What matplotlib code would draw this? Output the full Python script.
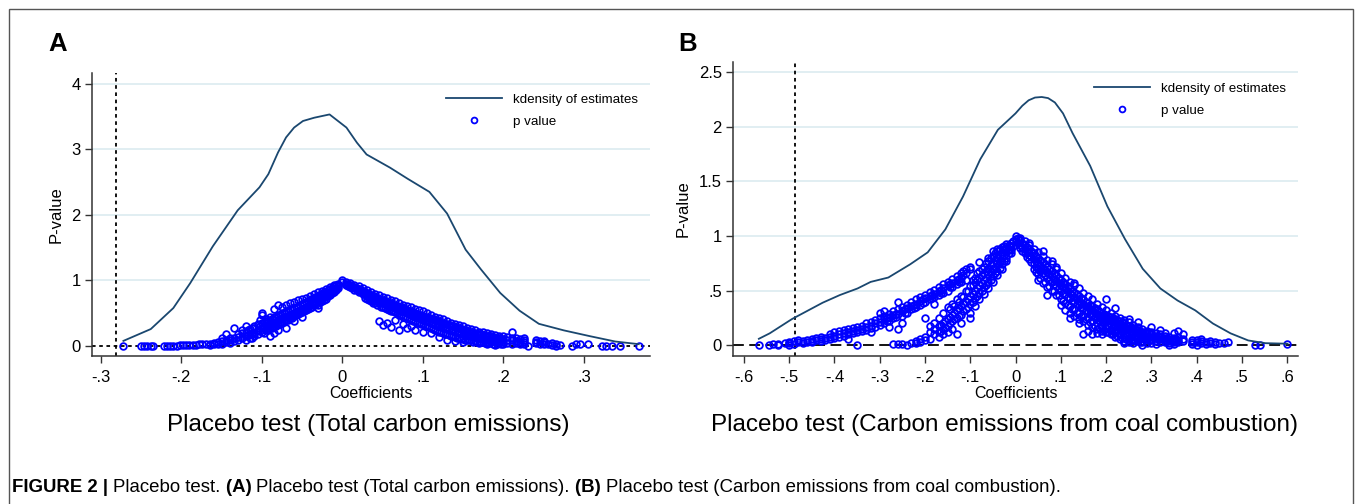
import matplotlib
matplotlib.use("Agg")
import matplotlib.pyplot as plt
from matplotlib.patches import Rectangle
from matplotlib.lines import Line2D

plt.rcParams['font.family'] = ['Liberation Sans', 'DejaVu Sans']

# kdensity curves
a_kx = [-0.272, -0.238, -0.210, -0.189, -0.161, -0.130, -0.103, -0.092, -0.080, -0.070,
        -0.060, -0.049, -0.035, -0.016, 0.005, 0.018, 0.030, 0.059, 0.081, 0.108,
        0.130, 0.153, 0.172, 0.196, 0.220, 0.244, 0.275, 0.308, 0.339, 0.368]
a_ky = [0.08, 0.26, 0.58, 0.96, 1.52, 2.07, 2.42, 2.62, 2.95, 3.18,
        3.33, 3.43, 3.48, 3.53, 3.33, 3.10, 2.92, 2.72, 2.55, 2.35,
        2.02, 1.47, 1.17, 0.81, 0.54, 0.34, 0.24, 0.15, 0.07, 0.03]

b_kx = [-0.567, -0.543, -0.494, -0.426, -0.388, -0.349, -0.320, -0.281, -0.233, -0.194,
        -0.155, -0.116, -0.078, -0.039, 0.000, 0.015, 0.029, 0.043, 0.058, 0.072,
        0.087, 0.105, 0.126, 0.165, 0.203, 0.242, 0.281, 0.320, 0.358, 0.397,
        0.436, 0.475, 0.514, 0.552, 0.601]
b_ky = [0.06, 0.11, 0.24, 0.39, 0.46, 0.52, 0.58, 0.62, 0.74, 0.85,
        1.06, 1.36, 1.70, 1.97, 2.12, 2.19, 2.24, 2.265, 2.27, 2.26,
        2.22, 2.12, 1.94, 1.64, 1.27, 0.97, 0.70, 0.52, 0.41, 0.32,
        0.20, 0.11, 0.045, 0.02, 0.015]

# p values: one coefficient, the p values seen at it
a_x = [-0.272, -0.25, -0.247, -0.243, -0.238, -0.235, -0.222, -0.218, -0.214, -0.21,
       -0.206, -0.202, -0.198, -0.194, -0.19, -0.186, -0.182, -0.178, -0.174, -0.17,
       -0.165, -0.16, -0.155, -0.15, -0.145, -0.14, -0.135, -0.13, -0.125, -0.12,
       -0.115, -0.11, -0.105, -0.1, -0.095, -0.09, -0.085, -0.08, -0.075, -0.07,
       -0.065, -0.06, -0.055, -0.05, -0.045, -0.04, -0.035, -0.03, -0.025, -0.02,
       -0.015, -0.01, -0.005, 0.0,
       0.005, 0.01, 0.015, 0.02, 0.025, 0.03, 0.035, 0.04, 0.045, 0.05,
       0.055, 0.06, 0.065, 0.07, 0.075, 0.08, 0.085, 0.09, 0.095, 0.1,
       0.105, 0.11, 0.115, 0.12, 0.125, 0.13, 0.135, 0.14, 0.145, 0.15,
       0.155, 0.16, 0.165, 0.17, 0.175, 0.18, 0.185, 0.19, 0.195, 0.2,
       0.205, 0.21, 0.215, 0.22, 0.225, 0.23, 0.24, 0.245, 0.25, 0.255,
       0.26, 0.265, 0.27, 0.285, 0.29, 0.295, 0.305, 0.322, 0.327, 0.335,
       0.345, 0.368]
a_p = [[0.0], [0.0], [0.0], [0.0], [0.0], [0.0], [0.0], [0.0], [0.0], [0.005],
       [0.005], [0.01], [0.01], [0.01], [0.015], [0.02], [0.02], [0.025], [0.03], [0.03],
       [0.04, 0.02], [0.05, 0.03], [0.06, 0.04], [0.08, 0.04, 0.12], [0.07, 0.10, 0.19],
       [0.09, 0.13, 0.05], [0.12, 0.28, 0.08], [0.14, 0.10, 0.18], [0.13, 0.20, 0.24],
       [0.15, 0.22, 0.1, 0.3],
       [0.18, 0.26, 0.12], [0.2, 0.28, 0.31, 0.15], [0.25, 0.33, 0.19],
       [0.27, 0.36, 0.47, 0.5, 0.22], [0.3, 0.38, 0.25, 0.42], [0.33, 0.4, 0.28, 0.15, 0.45],
       [0.35, 0.44, 0.57, 0.3, 0.2], [0.4, 0.47, 0.62, 0.34, 0.25], [0.42, 0.5, 0.37, 0.6],
       [0.45, 0.53, 0.4, 0.62, 0.28],
       [0.48, 0.56, 0.43, 0.66], [0.5, 0.58, 0.46, 0.67, 0.38], [0.53, 0.6, 0.49, 0.7],
       [0.56, 0.64, 0.52, 0.72, 0.45], [0.6, 0.67, 0.55, 0.74], [0.63, 0.7, 0.58, 0.77],
       [0.66, 0.73, 0.62, 0.8], [0.7, 0.76, 0.63, 0.82, 0.58], [0.73, 0.8, 0.68, 0.84],
       [0.77, 0.83, 0.72, 0.87],
       [0.82, 0.87, 0.78, 0.9], [0.86, 0.91, 0.83, 0.93], [0.92, 0.95, 0.89], [1.0, 0.98],
       [0.97, 0.95, 0.93], [0.93, 0.96, 0.9], [0.9, 0.93, 0.86], [0.87, 0.91, 0.83],
       [0.84, 0.88, 0.8], [0.81, 0.86, 0.77, 0.72], [0.78, 0.83, 0.74, 0.68],
       [0.75, 0.8, 0.71, 0.65], [0.72, 0.78, 0.68, 0.38], [0.7, 0.75, 0.65, 0.6, 0.32],
       [0.67, 0.73, 0.62, 0.56, 0.36], [0.65, 0.7, 0.6, 0.54, 0.29], [0.62, 0.68, 0.58, 0.52, 0.4],
       [0.6, 0.66, 0.55, 0.48, 0.25], [0.58, 0.63, 0.53, 0.45, 0.33], [0.55, 0.61, 0.5, 0.43, 0.27],
       [0.53, 0.59, 0.48, 0.4, 0.3], [0.5, 0.57, 0.45, 0.38, 0.24], [0.48, 0.55, 0.43, 0.35],
       [0.46, 0.53, 0.4, 0.33, 0.22],
       [0.44, 0.5, 0.38, 0.3], [0.42, 0.48, 0.36, 0.28, 0.2], [0.4, 0.45, 0.34, 0.25],
       [0.38, 0.43, 0.32, 0.22, 0.14], [0.35, 0.41, 0.29, 0.2], [0.33, 0.38, 0.27, 0.18, 0.1],
       [0.31, 0.36, 0.25, 0.16], [0.29, 0.34, 0.23, 0.14, 0.08], [0.27, 0.32, 0.21, 0.13],
       [0.25, 0.3, 0.19, 0.12, 0.06],
       [0.23, 0.28, 0.17, 0.1], [0.21, 0.26, 0.15, 0.09], [0.2, 0.24, 0.14, 0.08],
       [0.19, 0.22, 0.12, 0.05], [0.17, 0.21, 0.11, 0.06], [0.16, 0.2, 0.1, 0.04],
       [0.15, 0.19, 0.09, 0.06], [0.13, 0.17, 0.08, 0.02], [0.12, 0.16, 0.07],
       [0.11, 0.15, 0.06, 0.03],
       [0.1, 0.14, 0.05], [0.09, 0.13, 0.22, 0.04], [0.08, 0.12, 0.05], [0.07, 0.11, 0.03],
       [0.06, 0.12, 0.1, 0.03], [0.0], [0.1, 0.05, 0.07], [0.08, 0.04], [0.06, 0.03, 0.08],
       [0.03],
       [0.05, 0.02], [0.0, 0.04], [0.02], [0.0], [0.03], [0.04], [0.04], [0.0], [0.0], [0.0],
       [0.0], [0.0]]

# extra points of the dense bands, between the columns above
a_x_mid = [-0.1175, -0.1125, -0.1025, -0.0975, -0.0925, -0.0875, -0.0825, -0.0775,
           -0.0725, -0.0675, -0.0625, -0.0575, -0.0525, -0.0475, -0.0425, -0.0375,
           -0.0325, -0.0275, -0.0225, -0.0175, -0.0125, -0.0075,
           0.0075, 0.0125, 0.0175, 0.0225, 0.0275, 0.0325, 0.0375, 0.0425, 0.0475,
           0.0525, 0.0575, 0.0625, 0.0675, 0.0725, 0.0775, 0.0825, 0.0875, 0.0925,
           0.0975, 0.1025, 0.1075, 0.1125, 0.1175, 0.1225, 0.1275, 0.1325, 0.1375,
           0.1425, 0.1475, 0.1525, 0.1575, 0.1625, 0.1675, 0.1725, 0.1775, 0.1825,
           0.1875, 0.1925, 0.1975]
a_p_mid = [[0.17, 0.24], [0.19, 0.27, 0.13], [0.23, 0.31, 0.4], [0.28, 0.35, 0.2],
           [0.31, 0.39, 0.24], [0.34, 0.42, 0.27], [0.37, 0.45, 0.3], [0.41, 0.48, 0.33],
           [0.44, 0.51, 0.37], [0.46, 0.54, 0.4], [0.49, 0.57, 0.43], [0.52, 0.59, 0.47],
           [0.55, 0.62, 0.5], [0.58, 0.65, 0.53], [0.61, 0.69, 0.57], [0.65, 0.72, 0.6],
           [0.68, 0.75, 0.64], [0.72, 0.78, 0.67], [0.75, 0.82, 0.71], [0.8, 0.85, 0.76],
           [0.84, 0.89, 0.81], [0.89, 0.93, 0.86],
           [0.95, 0.92], [0.92, 0.88], [0.89, 0.85], [0.86, 0.82], [0.83, 0.79, 0.74],
           [0.8, 0.75, 0.7], [0.77, 0.72, 0.66], [0.74, 0.69, 0.63], [0.71, 0.66, 0.6],
           [0.69, 0.64, 0.58], [0.66, 0.61, 0.55], [0.63, 0.59, 0.53], [0.61, 0.57, 0.5],
           [0.59, 0.54, 0.47], [0.56, 0.52, 0.44], [0.54, 0.49, 0.41], [0.52, 0.47, 0.39],
           [0.49, 0.44, 0.36], [0.47, 0.42, 0.34], [0.45, 0.39, 0.31], [0.43, 0.37, 0.29],
           [0.41, 0.35, 0.26], [0.39, 0.33, 0.23], [0.36, 0.3, 0.21], [0.34, 0.28, 0.19],
           [0.32, 0.26, 0.17], [0.3, 0.24, 0.15], [0.28, 0.22, 0.13], [0.26, 0.2, 0.11],
           [0.24, 0.18, 0.1], [0.22, 0.16, 0.09], [0.2, 0.14, 0.07], [0.19, 0.13, 0.07],
           [0.18, 0.12, 0.06], [0.16, 0.1, 0.05], [0.15, 0.09, 0.05], [0.14, 0.08, 0.04],
           [0.12, 0.07, 0.03], [0.11, 0.06, 0.03]]

b_x = [-0.567, -0.545, -0.535, -0.525, -0.51, -0.5, -0.49, -0.48, -0.47, -0.46,
       -0.45, -0.44, -0.43, -0.42, -0.41, -0.4, -0.39, -0.38, -0.37, -0.36,
       -0.35, -0.34, -0.33, -0.32, -0.31, -0.3, -0.29, -0.28, -0.27, -0.26,
       -0.25, -0.24, -0.23, -0.22, -0.21, -0.2, -0.19, -0.18, -0.17, -0.16,
       -0.15, -0.14, -0.13, -0.12, -0.11, -0.1, -0.09, -0.08, -0.07, -0.06,
       -0.05, -0.04, -0.03, -0.02, -0.01, 0.0,
       0.01, 0.02, 0.03, 0.04, 0.05, 0.06, 0.07, 0.08, 0.09, 0.1,
       0.11, 0.12, 0.13, 0.14, 0.15, 0.16, 0.17, 0.18, 0.19, 0.2,
       0.21, 0.22, 0.23, 0.24, 0.25, 0.26, 0.27, 0.28, 0.29, 0.3,
       0.31, 0.32, 0.33, 0.34, 0.35, 0.36, 0.37, 0.39, 0.4, 0.41,
       0.42, 0.43, 0.44, 0.45, 0.46, 0.47, 0.53, 0.54, 0.6]
b_p = [[0.0], [0.0], [0.01], [0.01, 0.0], [0.02], [0.0, 0.02, 0.03], [0.01, 0.04],
       [0.03, 0.05], [0.04, 0.02], [0.05, 0.03],
       [0.06, 0.04, 0.03], [0.05, 0.07], [0.06, 0.08, 0.04], [0.07, 0.05], [0.08, 0.06, 0.1],
       [0.09, 0.07, 0.12], [0.1, 0.08, 0.13], [0.11, 0.09, 0.14], [0.12, 0.1, 0.15, 0.06],
       [0.13, 0.11, 0.16],
       [0.14, 0.0, 0.12, 0.17], [0.15, 0.13, 0.18], [0.17, 0.14, 0.2], [0.18, 0.16, 0.21, 0.12],
       [0.2, 0.17, 0.23], [0.21, 0.19, 0.25, 0.3], [0.24, 0.27, 0.2, 0.31],
       [0.26, 0.29, 0.22, 0.17], [0.28, 0.31, 0.25, 0.01], [0.29, 0.33, 0.4, 0.15, 0.01],
       [0.31, 0.35, 0.27, 0.2, 0.01], [0.34, 0.37, 0.3, 0.0], [0.36, 0.4, 0.33, 0.02],
       [0.38, 0.42, 0.35, 0.04, 0.02], [0.41, 0.44, 0.37, 0.06, 0.03],
       [0.43, 0.46, 0.4, 0.25, 0.08, 0.05], [0.45, 0.49, 0.42, 0.12, 0.06, 0.18],
       [0.47, 0.51, 0.44, 0.15, 0.1, 0.2, 0.38], [0.5, 0.53, 0.46, 0.18, 0.12, 0.25, 0.08],
       [0.52, 0.56, 0.48, 0.2, 0.15, 0.3, 0.1],
       [0.55, 0.58, 0.5, 0.24, 0.18, 0.35, 0.12], [0.57, 0.61, 0.53, 0.28, 0.22, 0.38, 0.15],
       [0.6, 0.63, 0.56, 0.32, 0.25, 0.1, 0.42], [0.62, 0.66, 0.58, 0.36, 0.28, 0.45, 0.2],
       [0.66, 0.7, 0.6, 0.4, 0.33, 0.5], [0.7, 0.72, 0.45, 0.38, 0.54, 0.25, 0.3],
       [0.5, 0.43, 0.58, 0.36, 0.62], [0.55, 0.48, 0.62, 0.42, 0.68, 0.76],
       [0.6, 0.53, 0.66, 0.47, 0.72], [0.65, 0.58, 0.7, 0.52, 0.77, 0.8],
       [0.7, 0.63, 0.75, 0.58, 0.82, 0.86], [0.75, 0.68, 0.8, 0.64, 0.86, 0.88],
       [0.8, 0.74, 0.85, 0.7, 0.9], [0.85, 0.8, 0.89, 0.77, 0.93], [0.91, 0.87, 0.94, 0.84],
       [1.0, 0.97, 0.95],
       [0.96, 0.92, 0.98, 0.89], [0.92, 0.88, 0.95, 0.84], [0.88, 0.83, 0.92, 0.79, 0.94],
       [0.84, 0.79, 0.88, 0.74, 0.7], [0.8, 0.75, 0.85, 0.7, 0.65, 0.6],
       [0.76, 0.71, 0.82, 0.66, 0.57, 0.86], [0.72, 0.67, 0.78, 0.62, 0.53, 0.46],
       [0.68, 0.63, 0.74, 0.58, 0.5, 0.77], [0.64, 0.59, 0.7, 0.54, 0.46, 0.72],
       [0.6, 0.55, 0.66, 0.5, 0.42, 0.37],
       [0.56, 0.52, 0.62, 0.47, 0.39, 0.32], [0.52, 0.48, 0.58, 0.43, 0.36, 0.3, 0.25],
       [0.48, 0.44, 0.55, 0.4, 0.33, 0.27, 0.57], [0.45, 0.41, 0.52, 0.37, 0.3, 0.24, 0.2],
       [0.42, 0.38, 0.48, 0.34, 0.27, 0.22, 0.1], [0.39, 0.35, 0.45, 0.31, 0.25, 0.19, 0.13],
       [0.36, 0.32, 0.42, 0.28, 0.22, 0.17, 0.1], [0.33, 0.29, 0.38, 0.25, 0.2, 0.15, 0.11],
       [0.3, 0.27, 0.35, 0.23, 0.18, 0.13, 0.1], [0.28, 0.25, 0.32, 0.21, 0.16, 0.12, 0.42],
       [0.26, 0.23, 0.3, 0.19, 0.14, 0.1], [0.24, 0.21, 0.27, 0.17, 0.12, 0.08, 0.34],
       [0.22, 0.19, 0.25, 0.15, 0.1, 0.06], [0.2, 0.17, 0.23, 0.13, 0.08, 0.04, 0.02],
       [0.18, 0.15, 0.21, 0.11, 0.06, 0.03, 0.24], [0.16, 0.13, 0.19, 0.1, 0.05, 0.02],
       [0.14, 0.12, 0.17, 0.08, 0.04, 0.21], [0.12, 0.1, 0.15, 0.07, 0.03, 0.0],
       [0.11, 0.09, 0.13, 0.06, 0.02], [0.1, 0.08, 0.12, 0.05, 0.02, 0.17],
       [0.09, 0.07, 0.11, 0.04, 0.01], [0.08, 0.06, 0.1, 0.03, 0.14], [0.07, 0.05, 0.09, 0.03, 0.11],
       [0.06, 0.04, 0.08, 0.02, 0.0], [0.05, 0.03, 0.07, 0.11, 0.01], [0.05, 0.03, 0.08, 0.13],
       [0.04, 0.06, 0.1], [0.03, 0.05, 0.01], [0.03, 0.05, 0.0], [0.02, 0.04, 0.06],
       [0.03, 0.01], [0.02, 0.04], [0.01, 0.03], [0.02], [0.02], [0.03], [0.0], [0.0], [0.01]]

b_x_mid = [-0.285, -0.265, -0.245, -0.225, -0.205, -0.185, -0.165, -0.145, -0.125, -0.115,
           -0.165, -0.155, -0.145, -0.135, -0.125, -0.115, -0.105,
           -0.095, -0.085, -0.075, -0.065, -0.055, -0.045, -0.035, -0.025, -0.015, -0.005,
           0.005, 0.015, 0.025, 0.035, 0.045, 0.055, 0.065, 0.075, 0.085, 0.095,
           0.105, 0.115, 0.125, 0.135, 0.145, 0.155, 0.165, 0.175, 0.185, 0.195,
           0.205, 0.215, 0.225, 0.235, 0.245, 0.255, 0.265, 0.275, 0.285, 0.295,
           0.315, 0.335, 0.355]
b_p_mid = [[0.25, 0.22], [0.29, 0.26], [0.33, 0.3], [0.37, 0.34], [0.42, 0.39],
           [0.46, 0.43], [0.51, 0.48], [0.56, 0.53], [0.61, 0.58], [0.64, 0.68],
           [0.19, 0.13], [0.22, 0.16], [0.26, 0.2, 0.33], [0.3, 0.24, 0.36], [0.34, 0.27, 0.4],
           [0.38, 0.31, 0.44], [0.42, 0.35, 0.5],
           [0.47, 0.4, 0.55, 0.6], [0.52, 0.45, 0.6, 0.66], [0.57, 0.5, 0.64, 0.7],
           [0.62, 0.55, 0.68, 0.75], [0.67, 0.6, 0.73, 0.8], [0.72, 0.66, 0.78, 0.84],
           [0.77, 0.71, 0.83, 0.88], [0.83, 0.77, 0.87, 0.91], [0.88, 0.84, 0.92], [0.95, 0.91],
           [0.98, 0.94], [0.94, 0.9, 0.86], [0.9, 0.85, 0.81], [0.86, 0.81, 0.76],
           [0.82, 0.77, 0.72, 0.67], [0.78, 0.73, 0.68, 0.62], [0.74, 0.69, 0.64, 0.58],
           [0.7, 0.65, 0.6, 0.54], [0.66, 0.61, 0.56, 0.5], [0.62, 0.57, 0.52, 0.46],
           [0.58, 0.53, 0.48, 0.41], [0.54, 0.5, 0.44, 0.37], [0.5, 0.46, 0.41, 0.33],
           [0.47, 0.42, 0.38, 0.3], [0.43, 0.39, 0.35, 0.27], [0.4, 0.36, 0.32, 0.24],
           [0.37, 0.33, 0.29, 0.21], [0.34, 0.3, 0.26, 0.18], [0.31, 0.27, 0.23, 0.16],
           [0.29, 0.25, 0.21, 0.14], [0.27, 0.23, 0.19, 0.12], [0.25, 0.21, 0.17, 0.1],
           [0.23, 0.19, 0.15, 0.09], [0.21, 0.17, 0.13, 0.07], [0.19, 0.15, 0.11, 0.06],
           [0.17, 0.13, 0.1, 0.05], [0.15, 0.12, 0.09, 0.04], [0.13, 0.1, 0.07, 0.03],
           [0.12, 0.09, 0.06], [0.11, 0.08, 0.05], [0.09, 0.06], [0.07, 0.04], [0.06, 0.04]]

a_xticks = [-0.3, -0.2, -0.1, 0, 0.1, 0.2, 0.3]
a_xlabels = ['-.3', '-.2', '-.1', '0', '.1', '.2', '.3']
a_yticks = [0, 1, 2, 3, 4]
a_ylabels = ['0', '1', '2', '3', '4']
b_xticks = [-0.6, -0.5, -0.4, -0.3, -0.2, -0.1, 0, 0.1, 0.2, 0.3, 0.4, 0.5, 0.6]
b_xlabels = ['-.6', '-.5', '-.4', '-.3', '-.2', '-.1', '0', '.1', '.2', '.3', '.4', '.5', '.6']
b_yticks = [0, 0.5, 1, 1.5, 2, 2.5]
b_ylabels = ['0', '.5', '1', '1.5', '2', '2.5']
a_true = -0.281
b_true = -0.488

LINE = '#1a476f'
DOT = '#0000ff'
GRID = '#dcebf0'


def expand(groups):
    px, py = [], []
    for xs, ps in groups:
        for x, vals in zip(xs, ps):
            for v in vals:
                px.append(x)
                py.append(v)
    return px, py


def panel(ax, kx, ky, groups, xticks, xlabels, yticks, ylabels, xlim, ylim, vline, hstyle):
    ax.set_xlim(*xlim)
    ax.set_ylim(*ylim)
    for y in yticks[1:]:
        ax.axhline(y, color=GRID, lw=1.2, zorder=0)
    px, py = expand(groups)
    ax.plot(px, py, 'o', ms=4.8, mfc='none', mec=DOT, mew=1.3, zorder=3)
    ax.plot(kx, ky, color=LINE, lw=1.3, zorder=4)
    ax.axvline(vline, color='black', lw=1.3, ls=(0, (2, 2)), zorder=2)
    ax.axhline(0, color='black', lw=1.3, ls=hstyle, zorder=2)
    ax.set_xticks(xticks)
    ax.set_xticklabels(xlabels, fontsize=12)
    ax.set_yticks(yticks)
    ax.set_yticklabels(ylabels, fontsize=12)
    ax.tick_params(direction='out', length=5, width=1, color='#333333')
    ax.tick_params(axis='x', pad=5)
    ax.tick_params(axis='y', pad=3)
    for s in ['top', 'right']:
        ax.spines[s].set_visible(False)
    for s in ['left', 'bottom']:
        ax.spines[s].set_color('#333333')
        ax.spines[s].set_linewidth(1.1)
    ax.set_xlabel('Coefficients', fontsize=11.5, labelpad=1)
    ax.set_ylabel('P-value', fontsize=12, labelpad=6)
    handles = [Line2D([], [], color=LINE, lw=1.3),
               Line2D([], [], ls='none', marker='o', ms=4.2, mfc='none', mec=DOT, mew=1.3)]
    ax.legend(handles, ['kdensity of estimates', 'p value'], loc='upper right',
              bbox_to_anchor=(1.0, 0.97), frameon=False, fontsize=9.6,
              handlelength=4.2, handletextpad=0.8, labelspacing=0.7)


fig = plt.figure(figsize=(13.57, 5.04), dpi=100)

# outer frame
fig.patches.append(Rectangle((9 / 1357, -0.02), 1344 / 1357, (504 - 9) / 504 + 0.02,
                             transform=fig.transFigure, fill=False,
                             edgecolor='#555555', lw=1.0))

ax1 = fig.add_axes([0.0678, 0.2937, 0.4112, 0.5613])
panel(ax1, a_kx, a_ky, [(a_x, a_p), (a_x_mid, a_p_mid)], a_xticks, a_xlabels,
      a_yticks, a_ylabels, (-0.311, 0.382), (-0.15, 4.16), a_true, (0, (2, 2)))

ax2 = fig.add_axes([0.5402, 0.2937, 0.4163, 0.5833])
panel(ax2, b_kx, b_ky, [(b_x, b_p), (b_x_mid, b_p_mid)], b_xticks, b_xlabels,
      b_yticks, b_ylabels, (-0.624, 0.624), (-0.097, 2.59), b_true, (0, (6, 3)))

fig.text(58 / 1357, 1 - 44 / 504, 'A', fontsize=18.5, fontweight='bold', va='center', ha='center')
fig.text(688 / 1357, 1 - 44 / 504, 'B', fontsize=18.5, fontweight='bold', va='center', ha='center')

fig.text(368 / 1357, 1 - 425 / 504, 'Placebo test (Total carbon emissions)',
         fontsize=17.5, ha='center', va='center')
fig.text(1005 / 1357, 1 - 425 / 504, 'Placebo test (Carbon emissions from coal combustion)',
         fontsize=17.5, ha='center', va='center')

# caption with bold pieces
pieces = [('FIGURE 2 | ', 'bold'), ('Placebo test. ', 'normal'), ('(A) ', 'bold'),
          ('Placebo test (Total carbon emissions). ', 'normal'), ('(B) ', 'bold'),
          ('Placebo test (Carbon emissions from coal combustion).', 'normal')]
renderer = fig.canvas.get_renderer()
xpos = 12 / 1357
for txt, w in pieces:
    t = fig.text(xpos, 1 - 488 / 504, txt, fontsize=13.4, fontweight=w,
                 va='center', ha='left')
    bb = t.get_window_extent(renderer=renderer)
    xpos += bb.width / fig.bbox.width

fig.savefig('out.png', dpi=100)
